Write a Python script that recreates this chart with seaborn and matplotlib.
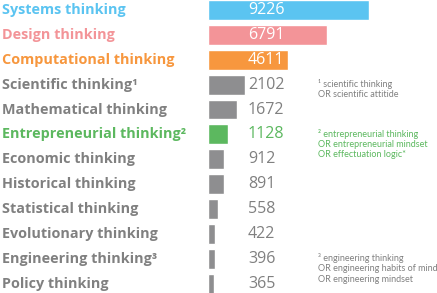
import matplotlib
matplotlib.use("Agg")
import matplotlib.pyplot as plt
import matplotlib.transforms as mtransforms
import seaborn as sns
import pandas as pd

# Data
labels = ["Systems thinking", "Design thinking", "Computational thinking",
          "Scientific thinking¹", "Mathematical thinking", "Entrepreneurial thinking²",
          "Economic thinking", "Historical thinking", "Statistical thinking",
          "Evolutionary thinking", "Engineering thinking³", "Policy thinking"]
counts = [9226, 6791, 4611, 2102, 1672, 1128, 912, 891, 558, 422, 396, 365]
groups = ["systems", "design", "computational", "other", "other", "entrepreneurial",
          "other", "other", "other", "other", "other", "other"]

palette = {"systems": "#5BC4F1", "design": "#F39498", "computational": "#F7973E",
           "entrepreneurial": "#5CB85F", "other": "#8E8E90"}
text_colors = {"systems": "#5BC4F1", "design": "#F39498", "computational": "#F7973E",
               "entrepreneurial": "#5CB85F", "other": "#808080"}

footnotes = {3: "¹ scientific thinking\nOR scientific attitide",
             5: "² entrepreneurial thinking\nOR entrepreneurial mindset\nOR effectuation logic*",
             10: "³ engineering thinking\nOR engineering habits of mind\nOR engineering mindset"}

df = pd.DataFrame({"label": labels, "count": counts, "group": groups})

sns.set_style("white")
plt.rcParams['font.family'] = ['Open Sans', 'DejaVu Sans']

fig = plt.figure(figsize=(4.37, 2.93), dpi=100)
ax = fig.add_axes([208 / 437, 0, (437 - 208) / 437, 1])

sns.barplot(data=df, y="label", x="count", hue="group", palette=palette,
            dodge=False, legend=False, width=0.8, ax=ax, orient="h", saturation=1)

ax.set_xlim(0, 13120)
ax.set_ylim(11.37, -0.40)
ax.axis("off")

trans = mtransforms.blended_transform_factory(fig.transFigure, ax.transData)

for i, (lab, c, g) in enumerate(zip(labels, counts, groups)):
    fig.text(2 / 437, i, lab, transform=trans, ha="left", va="center",
             fontsize=10.4, fontweight="bold", color=text_colors[g])
    num_color = "white" if i < 3 else text_colors[g]
    ax.text(248 / 437, i, str(c), transform=trans, ha="left", va="center",
            fontsize=11.5, color=num_color)

for i, note in footnotes.items():
    ax.text(318 / 437, i - 0.22, note, transform=trans, ha="left", va="top",
            fontsize=6.5, color=text_colors[groups[i]], linespacing=1.15,
            family=["Lato", "DejaVu Sans"])

plt.savefig("out.png", dpi=100)
